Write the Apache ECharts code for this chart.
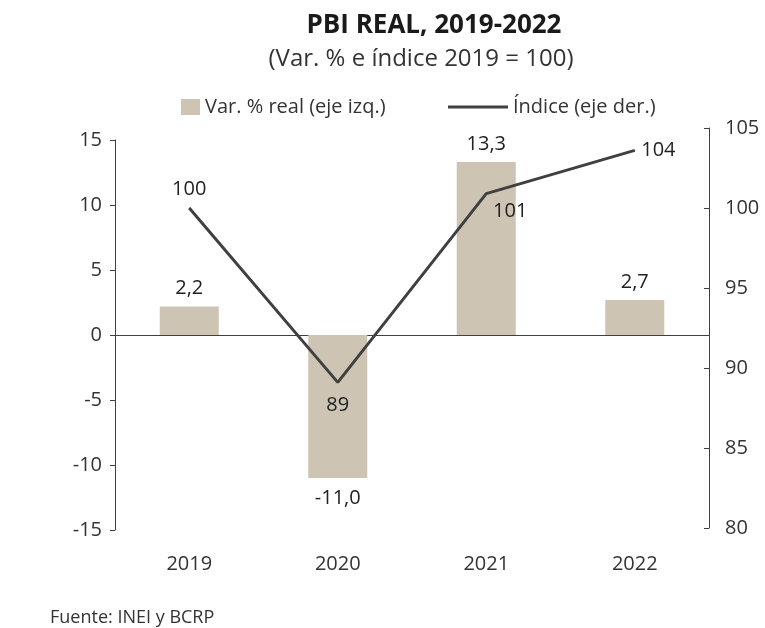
<!DOCTYPE html>
<html>
<head>
<meta charset="utf-8">
<script src="https://cdn.jsdelivr.net/npm/echarts@6/dist/echarts.min.js"></script>
<style>
    html, body { margin: 0; padding: 0; background: #fff; }
    #chart { width: 765px; height: 628px; }
</style>
</head>
<body>
<div id="chart"></div>
<script>
    // datos del grafico
    var years = ['2019', '2020', '2021', '2022'];
    var varReal = [2.2, -11.0, 13.3, 2.7];
    var indice = [100, 89.1, 100.9, 103.6];
    var leftTicks = [-15, 15, 5];
    var rightTicks = [80, 105, 5];

    var font = 'Open Sans';
    var barColor = '#cdc4b3';
    var lineColor = '#404040';

    // posicion de etiquetas de la linea
    var lineLabelPos = [
        { position: 'top', distance: 8 },
        { position: 'bottom', distance: 12 },
        { position: 'bottom', distance: 4, offset: [24, 3] },
        { position: 'right', distance: 6 }
    ];

    function fmtComa(v) {
        return v.toFixed(1).replace('.', ',');
    }

    var barData = varReal.map(function (v) {
        return {
            value: v,
            label: { position: v < 0 ? 'bottom' : 'top', distance: v < 0 ? 10 : 8 }
        };
    });
    var lineData = indice.map(function (v, i) {
        return { value: v, label: lineLabelPos[i] };
    });

    var chart = echarts.init(document.getElementById('chart'));
    var options = {
        animation: false,
        backgroundColor: '#ffffff',
        textStyle: { fontFamily: font },
        title: [{
            text: 'PBI REAL, 2019-2022',
            left: 429,
            top: 8,
            textAlign: 'center',
            textStyle: { fontSize: 26, fontWeight: 'bold', color: '#1a1a1a', fontFamily: font }
        }, {
            text: '(Var. % e índice 2019 = 100)',
            left: 416,
            top: 42,
            textAlign: 'center',
            textStyle: { fontSize: 24, fontWeight: 'normal', color: '#333', fontFamily: font }
        }, {
            text: 'Fuente: INEI y BCRP',
            left: 45,
            top: 604,
            textStyle: { fontSize: 18, fontWeight: 'normal', color: '#333', fontFamily: font }
        }],
        legend: [{
            left: 176,
            top: 92,
            icon: 'rect',
            itemWidth: 19,
            itemHeight: 16,
            itemGap: 9,
            data: ['Var. % real (eje izq.)'],
            textStyle: { fontSize: 20, color: '#333', fontFamily: font }
        }, {
            left: 443,
            top: 92,
            icon: 'rect',
            itemWidth: 60,
            itemHeight: 3,
            itemGap: 12,
            data: ['Índice (eje der.)'],
            textStyle: { fontSize: 20, color: '#333', fontFamily: font }
        }],
        grid: [
            { left: 115, right: 56, top: 140, bottom: 98 },
            { left: 115, right: 56, top: 128, bottom: 100 }
        ],
        xAxis: [{
            type: 'category',
            gridIndex: 0,
            data: years,
            axisLine: { onZero: true, lineStyle: { color: '#404040', width: 1 } },
            axisTick: { show: false },
            axisLabel: { show: false }
        }, {
            type: 'category',
            gridIndex: 1,
            data: years,
            axisLine: { show: false },
            axisTick: { show: false },
            axisLabel: { margin: 26, fontSize: 20, color: '#333', fontFamily: font }
        }],
        yAxis: [{
            type: 'value',
            gridIndex: 0,
            min: leftTicks[0],
            max: leftTicks[1],
            interval: leftTicks[2],
            splitLine: { show: false },
            axisLine: { show: true, lineStyle: { color: '#404040' } },
            axisTick: { show: true, length: 5, lineStyle: { color: '#404040' } },
            axisLabel: { fontSize: 20, color: '#333', margin: 13, fontFamily: font }
        }, {
            type: 'value',
            gridIndex: 1,
            position: 'right',
            min: rightTicks[0],
            max: rightTicks[1],
            interval: rightTicks[2],
            splitLine: { show: false },
            axisLine: { show: true, lineStyle: { color: '#404040' } },
            axisTick: { show: true, inside: true, length: 5, lineStyle: { color: '#404040' } },
            axisLabel: { fontSize: 20, color: '#333', margin: 16, fontFamily: font }
        }],
        series: [{
            name: 'Var. % real (eje izq.)',
            type: 'bar',
            xAxisIndex: 0,
            yAxisIndex: 0,
            barWidth: 59,
            itemStyle: { color: barColor },
            label: {
                show: true,
                fontSize: 20,
                color: '#222',
                fontFamily: font,
                formatter: function (p) { return fmtComa(p.value); }
            },
            data: barData
        }, {
            name: 'Índice (eje der.)',
            type: 'line',
            xAxisIndex: 1,
            yAxisIndex: 1,
            symbol: 'circle',
            symbolSize: 1,
            showSymbol: true,
            lineStyle: { color: lineColor, width: 3 },
            itemStyle: { color: lineColor },
            label: {
                show: true,
                fontSize: 20,
                color: '#222',
                fontFamily: font,
                formatter: function (p) { return Math.round(p.value); }
            },
            data: lineData
        }]
    };
    chart.setOption(options);
</script>
</body>
</html>
